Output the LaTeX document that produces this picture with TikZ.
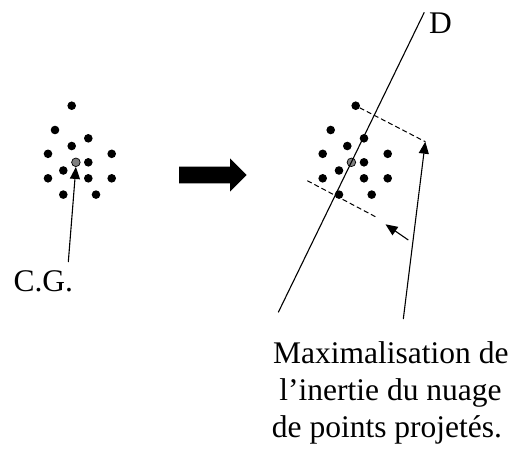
\documentclass[tikz,border=0pt]{standalone}
\usepackage{fontspec}
\setmainfont{Liberation Serif}
\usetikzlibrary{arrows.meta}
\tikzset{
  dot/.style={circle,fill=black,inner sep=0pt,minimum size=8.6pt},
  gdot/.style={circle,fill=gray,draw=black,line width=0.7pt,inner sep=0pt,minimum size=8.6pt},
  lbl/.style={font=\fontsize{31.5}{37}\selectfont,inner sep=0pt,anchor=base},
  conn/.style={line width=1.1pt,-{Triangle[length=12pt,width=10pt]}},
  proj/.style={line width=1pt,dash pattern=on 5pt off 3pt},
}
\begin{document}
\begin{tikzpicture}[x=1pt,y=-1pt]
\useasboundingbox (0,0) rectangle (515,451);
% left cluster
\foreach \p [count=\i] in {(71.7,105.7),(55,130),(88.3,138.3),(71.7,146),(48,153.8),(111.7,153.8),(88.3,162.3),(63.3,170.5),(48,178.3),(88.3,178.3),(111.7,178.3),(63.3,194.6),(96,194.6)}
  \node[dot] (l\i) at \p {};
\node[gdot] (lg) at (75.9,162.3) {};
% right cluster
\foreach \p [count=\i] in {(355.7,105.7),(330.7,130),(364,138.3),(347.3,146),(322.7,153.8),(387.7,153.8),(364,162.3),(339,170.5),(322.7,178.3),(364,178.3),(387.7,178.3),(339,194.6),(371.7,194.6)}
  \node[dot] (r\i) at \p {};
\node[gdot] (rg) at (351.4,162.3) {};
% labels
\node[lbl] (cg) at (43.3,291.7) {C.G.};
\node[lbl] (dl) at (440.5,33) {D};
\node[lbl] (t1) at (390.8,363.3) {Maximalisation de};
\node[lbl] (t2) at (390.5,400.3) {l’inertie du nuage};
\node[lbl] (t3) at (387,437.3) {de points projetés.};
% big arrow
\fill (179,166.7) -- (230,166.7) -- (230,158.3) -- (246.7,175) -- (230,191.7) -- (230,183.3) -- (179,183.3) -- cycle;
% line D
\coordinate (dbot) at (278.3,312.3);
\coordinate (dtop) at (424.3,12.3);
\draw[line width=1.1pt] (dbot) -- (dtop);
% CG arrow
\coordinate (cgs) at (68.3,262);
\draw[conn] (cgs) -- (lg.south);
% projections
\coordinate (p1) at (425.3,141.7);
\coordinate (p2a) at (307.3,180.7);
\coordinate (p2b) at (377.3,217.7);
\draw[proj] (r1) -- (p1);
\draw[proj] (p2a) -- (p2b);
% arrows to text
\coordinate (as) at (403.3,319);
\coordinate (bs) at (408.3,240);
\coordinate (bt) at (385.5,224.3);
\draw[conn] (as) -- (p1);
\draw[conn] (bs) -- (bt);
\end{tikzpicture}
\end{document}
